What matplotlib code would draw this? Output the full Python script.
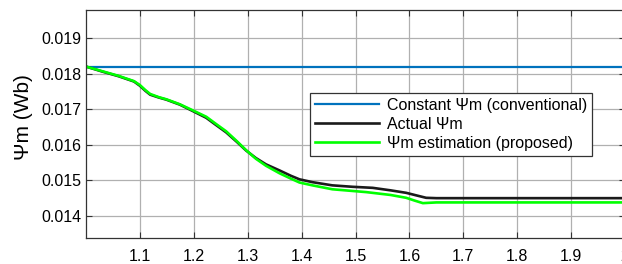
import matplotlib
matplotlib.use("Agg")
import matplotlib.pyplot as plt
import numpy as np

plt.rcParams['font.family'] = ['Liberation Sans', 'DejaVu Sans']

# Data
const_psi = 0.0182
t_actual = [1.0, 1.03, 1.06, 1.089, 1.1, 1.11, 1.119, 1.135, 1.149, 1.174, 1.198, 1.223,
            1.24, 1.26, 1.28, 1.297, 1.315, 1.334, 1.359, 1.38, 1.396, 1.42, 1.457, 1.494,
            1.532, 1.565, 1.594, 1.615, 1.631, 1.65, 2.0]
psi_actual = [0.0182, 0.01806, 0.01793, 0.01778, 0.01766, 0.01752, 0.01741, 0.01733,
              0.01727, 0.01713, 0.01695, 0.01676, 0.01657, 0.01635, 0.01608, 0.01584,
              0.01563, 0.01545, 0.01528, 0.01513, 0.01503, 0.01495, 0.01486, 0.01482,
              0.01479, 0.01472, 0.01465, 0.01457, 0.01451, 0.0145, 0.0145]
t_est = [1.0, 1.03, 1.06, 1.089, 1.1, 1.11, 1.119, 1.135, 1.149, 1.174, 1.198, 1.223,
         1.24, 1.26, 1.28, 1.297, 1.315, 1.334, 1.359, 1.38, 1.396, 1.42, 1.457, 1.52,
         1.565, 1.594, 1.61, 1.625, 1.65, 2.0]
psi_est = [0.0182, 0.01807, 0.01794, 0.01779, 0.01768, 0.01754, 0.01743, 0.01734,
           0.01728, 0.01714, 0.01697, 0.01679, 0.01660, 0.01638, 0.01610, 0.01585,
           0.01561, 0.01541, 0.01520, 0.01505, 0.01494, 0.01486, 0.01475, 0.01467,
           0.01459, 0.01451, 0.01443, 0.01436, 0.01438, 0.01438]
xticks = [1.1, 1.2, 1.3, 1.4, 1.5, 1.6, 1.7, 1.8, 1.9, 2.0]
xticklabels = ['1.1', '1.2', '1.3', '1.4', '1.5', '1.6', '1.7', '1.8', '1.9', '2']
yticks = [0.014, 0.015, 0.016, 0.017, 0.018, 0.019]
yticklabels = ['0.014', '0.015', '0.016', '0.017', '0.018', '0.019']

fig = plt.figure(figsize=(6.22, 2.64), dpi=100)
ax = fig.add_axes([86/622, 1 - 238/264, (625 - 86)/622, (238 - 10)/264])

ax.plot([1.0, 2.0], [const_psi, const_psi], color='#0072BD', lw=1.6,
        label='Constant Ψm (conventional)')
ax.plot(t_actual, psi_actual, color='#1a1a1a', lw=1.9, label='Actual Ψm')
ax.plot(t_est, psi_est, color='#00FF00', lw=1.9, label='Ψm estimation (proposed)')

ax.set_xlim(1.0, 2.0)
ax.set_ylim(0.01338, 0.01979)
ax.set_xticks(xticks)
ax.set_xticklabels(xticklabels)
ax.set_yticks(yticks)
ax.set_yticklabels(yticklabels)
ax.tick_params(direction='in', labelsize=11.5, length=4, top=True, right=True,
               color='#333333')
ax.tick_params(axis='x', pad=8)
ax.grid(True, color='#b0b0b0', lw=0.9)
for s in ax.spines.values():
    s.set_color('#333333')
    s.set_linewidth(0.9)
ax.set_ylabel('Ψm (Wb)', fontsize=15)
ax.yaxis.set_label_coords(-0.098, 0.53)

leg = ax.legend(loc='upper left', bbox_to_anchor=((310 - 86)/539, 1 - (93 - 10)/228),
                fontsize=11.5, frameon=True, fancybox=False, framealpha=1,
                edgecolor='#333333', handlelength=4.0, labelspacing=0.25,
                borderpad=0.3, handletextpad=0.5, borderaxespad=0)
leg.get_frame().set_linewidth(0.9)

fig.savefig('out.png', dpi=100)
